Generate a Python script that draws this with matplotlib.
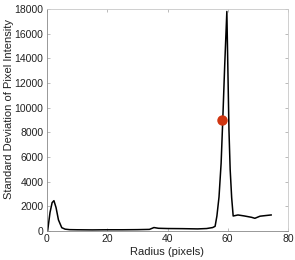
import matplotlib
matplotlib.use("Agg")
import matplotlib.pyplot as plt

radius = [0.2, 1.0, 1.7, 2.3, 3.0, 3.8, 4.9, 6.0, 7.5, 10, 15, 20, 25, 30, 34, 35.5, 37, 40, 45, 50, 53, 55, 55.8,
          56.4, 57.1, 57.8, 58.3, 59.0, 59.7, 60.05, 60.4, 60.8, 61.3, 61.8, 63.4, 65.5, 67.9, 69.0, 70.7, 72.5, 74.4]
std_dev = [0, 1500, 2300, 2460, 1900, 900, 270, 150, 110, 100, 90, 100, 100, 110, 130, 280, 220, 200, 190, 170, 200, 280, 380,
           1216, 2760, 5500, 8700, 13500, 17800, 13000, 8200, 5000, 2700, 1216, 1300, 1220, 1110, 1030, 1200, 1250, 1300]
marker_x = [58.2]
marker_y = [9000]

xticks = [0, 20, 40, 60, 80]
yticks = [0, 2000, 4000, 6000, 8000, 10000, 12000, 14000, 16000, 18000]

plt.rcParams['font.family'] = ['Liberation Sans', 'DejaVu Sans']
fig = plt.figure(figsize=(2.95, 2.60), dpi=100)
ax = fig.add_axes([47/295, 1 - 231/260, (288 - 47)/295, (231 - 9)/260])

ax.plot(radius, std_dev, color='black', lw=1.1)
ax.plot(marker_x, marker_y, 'o', color='#d03510', ms=6.5, mec='#d03510')

ax.set_xlim(0, 80)
ax.set_ylim(0, 18000)
ax.set_xticks(xticks)
ax.set_yticks(yticks)
ax.tick_params(direction='in', length=2.5, width=0.6, color='#b0b0b0', labelsize=7.5,
               labelcolor='#222222', top=True, right=True, pad=2.5)
for s in ax.spines.values():
    s.set_color('#c8c8c8')
    s.set_linewidth(0.6)
ax.spines['left'].set_color('#888888')
ax.spines['bottom'].set_color('#888888')

ax.set_xlabel('Radius (pixels)', fontsize=8, color='#222222', labelpad=2)
ax.set_ylabel('Standard Deviation of Pixel Intensity', fontsize=8, color='#222222')
ax.yaxis.set_label_coords(-0.135, 0.55)

fig.savefig('out.png', dpi=100)
